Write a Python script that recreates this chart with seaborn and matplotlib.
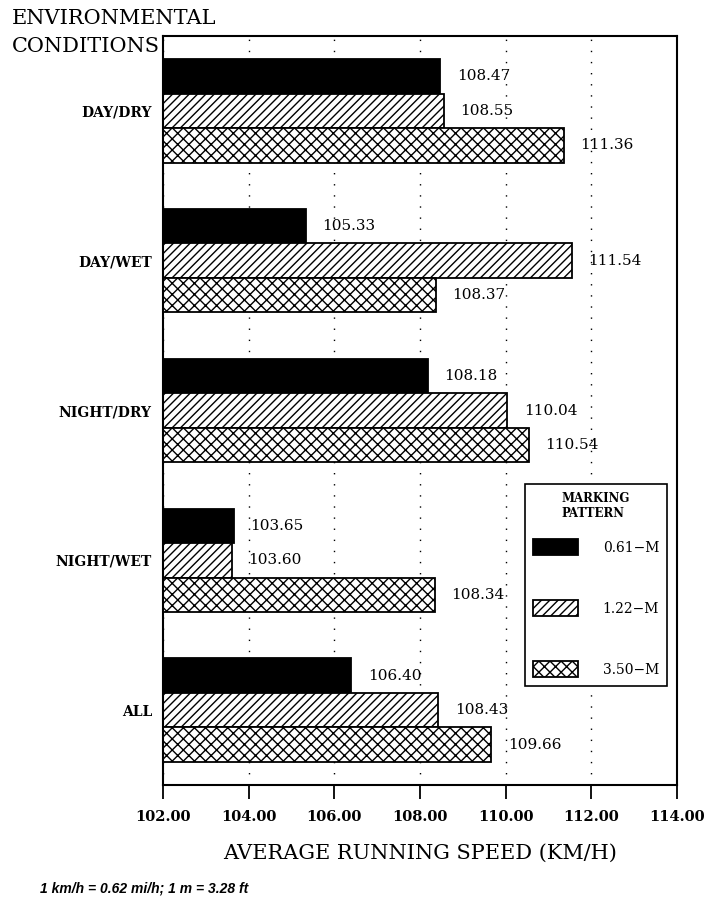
import pandas as pd
import seaborn as sns
import matplotlib.pyplot as plt
from matplotlib.patches import Patch

# Average running speed (km/h) by environmental condition and marking pattern
conditions = ["DAY/DRY", "DAY/WET", "NIGHT/DRY", "NIGHT/WET", "ALL"]
patterns = ["0.61\u2212M", "1.22\u2212M", "3.50\u2212M"]
speed_061 = [108.47, 105.33, 108.18, 103.65, 106.40]
speed_122 = [108.55, 111.54, 110.04, 103.60, 108.43]
speed_350 = [111.36, 108.37, 110.54, 108.34, 109.66]
x_ticks = [102, 104, 106, 108, 110, 112, 114]

df = pd.DataFrame({
    "condition": conditions * 3,
    "pattern": [p for p in patterns for _ in conditions],
    "speed": speed_061 + speed_122 + speed_350,
})

sns.set_theme(style="white")
plt.rcParams["font.family"] = ["DejaVu Serif"]
plt.rcParams["hatch.linewidth"] = 1.0
plt.rcParams["hatch.color"] = "black"
plt.rcParams["text.color"] = "black"
plt.rcParams["axes.labelcolor"] = "black"
plt.rcParams["xtick.color"] = "black"
plt.rcParams["ytick.color"] = "black"

W, H = 705, 897
fig = plt.figure(figsize=(W / 100, H / 100), dpi=100)
ax = fig.add_axes([163 / W, 1 - 785 / H, 514 / W, 749 / H])

fills = ["black", "white", "white"]
hatches = ["", "////", "xxx"]

sns.barplot(data=df, y="condition", x="speed", hue="pattern", orient="h",
            order=conditions, hue_order=patterns, palette=fills,
            saturation=1, width=0.69, edgecolor="black", linewidth=1.3,
            errorbar=None, legend=False, ax=ax)

for cont, hatch in zip(ax.containers, hatches):
    for bar in cont:
        bar.set_hatch(hatch)
        bar.set_edgecolor("black")
    ax.bar_label(cont, fmt="%.2f", padding=12, fontsize=11,
                 family="DejaVu Serif", color="black")

ax.set_xlim(x_ticks[0], x_ticks[-1])
ax.set_ylim(len(conditions) - 0.5, -0.5)
ax.set_xticks(x_ticks)
ax.set_xticklabels([f"{t:.2f}" for t in x_ticks], fontweight="bold",
                   fontsize=10.5)
ax.tick_params(axis="x", bottom=True, direction="out", length=10,
               width=1.3, pad=8, colors="black")
ax.tick_params(axis="y", left=False, length=0, pad=8, labelsize=10,
               colors="black")
for lab in ax.get_yticklabels():
    lab.set_fontweight("bold")

ax.xaxis.grid(True, linestyle=(0, (1, 7)), color="black", linewidth=1.0)
ax.yaxis.grid(False)
ax.set_axisbelow(True)
for sp in ax.spines.values():
    sp.set_visible(True)
    sp.set_color("black")
    sp.set_linewidth(1.5)
ax.set_xlabel("")
ax.set_ylabel("")

# Legend of marking patterns
handles = [Patch(facecolor=f, edgecolor="black", hatch=h, linewidth=1.3)
           for f, h in zip(fills, hatches)]
leg = ax.legend(handles, patterns, title="MARKING\nPATTERN",
                loc="upper left", bbox_to_anchor=(0.704, 0.402),
                fontsize=10, title_fontproperties={"weight": "bold",
                                                    "size": 8.5,
                                                    "family": "DejaVu Serif"},
                handlelength=3.2, handleheight=1.45, labelspacing=3.2,
                handletextpad=1.8, borderpad=0.6, borderaxespad=0,
                frameon=True, fancybox=False, framealpha=1,
                edgecolor="black")
leg.get_frame().set_linewidth(1.2)
leg._legend_box.sep = 13.5

# Figure texts
fig.text(12 / W, 1 - 18 / H, "ENVIRONMENTAL", fontsize=15, va="center",
         ha="left")
fig.text(12 / W, 1 - 46 / H, "CONDITIONS", fontsize=15, va="center",
         ha="left")
fig.text(420 / W, 1 - 853 / H, "AVERAGE RUNNING SPEED (KM/H)", fontsize=15,
         va="center", ha="center")
fig.text(40 / W, 1 - 888 / H, "1 km/h = 0.62 mi/h; 1 m = 3.28 ft",
         fontsize=10, fontstyle="italic", fontweight="bold",
         family="Liberation Sans", va="center", ha="left")

fig.savefig("out.png", dpi=100)
